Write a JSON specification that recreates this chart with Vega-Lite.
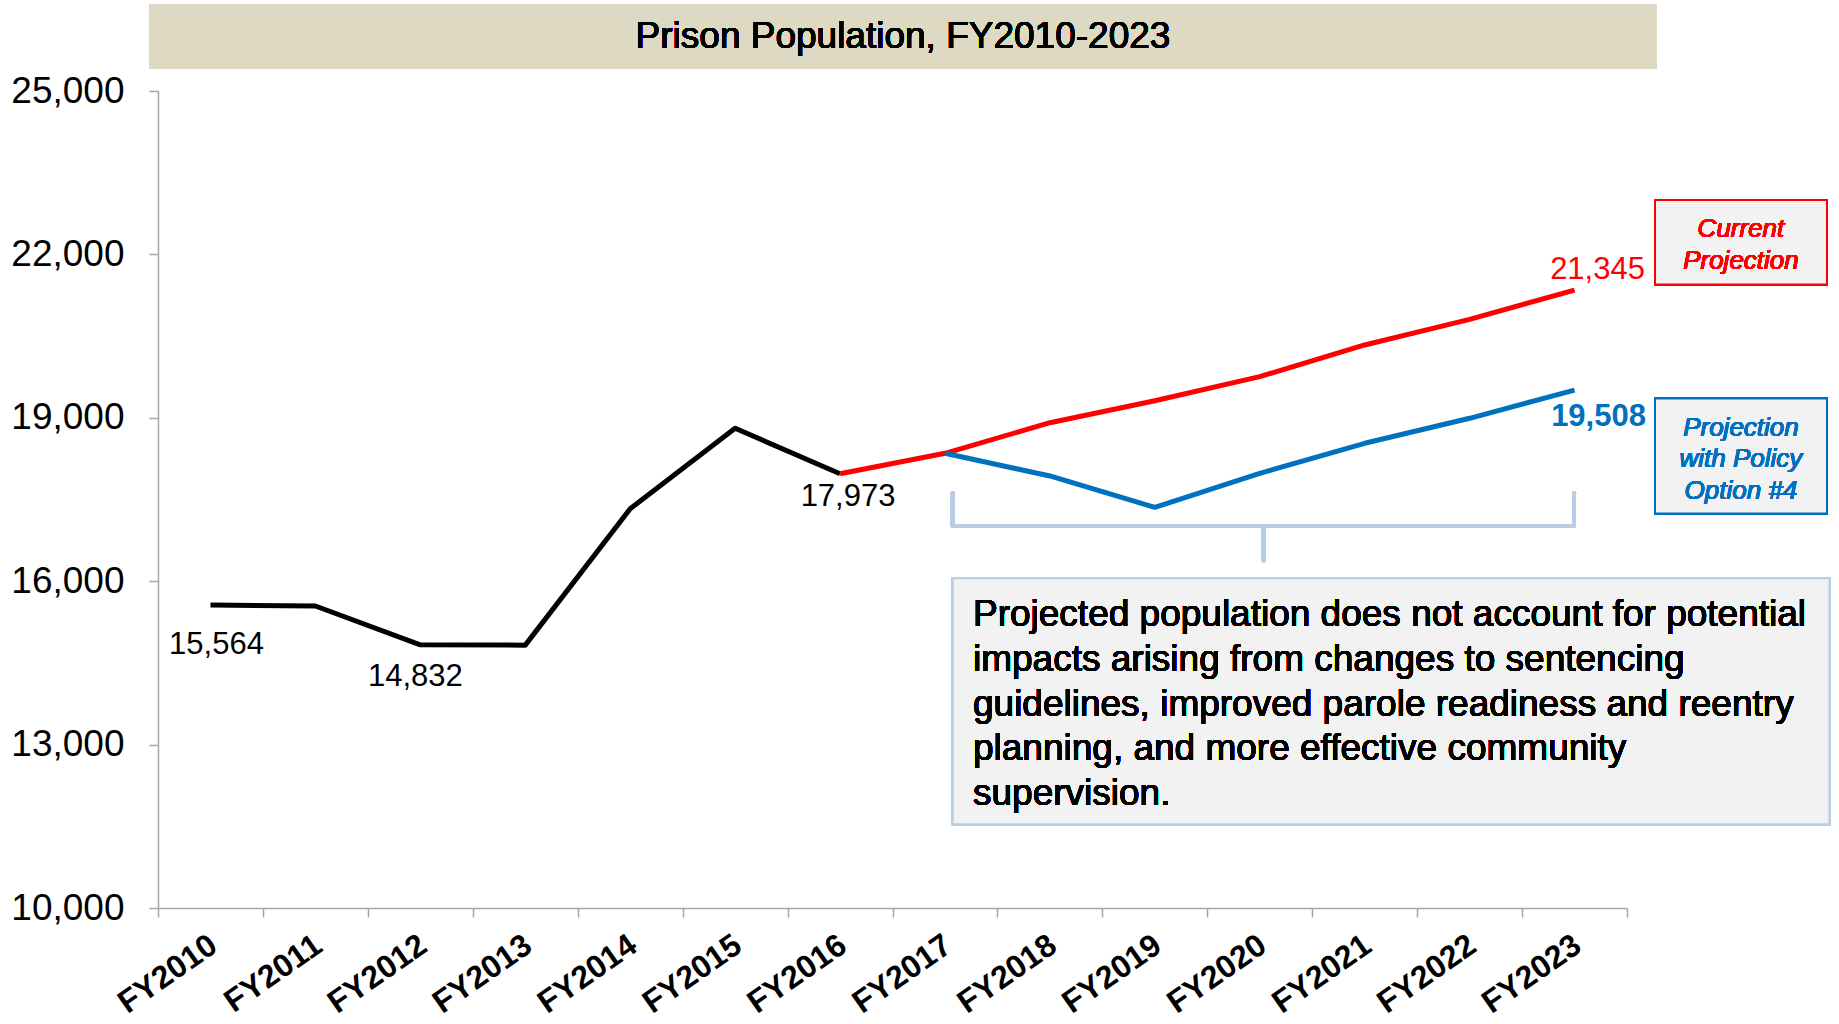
{
  "$schema": "https://vega.github.io/schema/vega-lite/v6.json",
  "autosize": "none",
  "width": 1469,
  "height": 817,
  "padding": {"left": 158, "top": 91, "right": 212, "bottom": 116},
  "background": "#FFFFFF",
  "config": {
    "view": {"stroke": null},
    "font": "Liberation Sans",
    "axis": {"labelFont": "Liberation Sans", "labelColor": "#000000", "grid": false, "title": null}
  },
  "datasets": {
    "pop": [
      {"year": 2010, "series": "Actual", "value": 15564},
      {"year": 2011, "series": "Actual", "value": 15545},
      {"year": 2012, "series": "Actual", "value": 14832},
      {"year": 2013, "series": "Actual", "value": 14826},
      {"year": 2014, "series": "Actual", "value": 17330},
      {"year": 2015, "series": "Actual", "value": 18807},
      {"year": 2016, "series": "Actual", "value": 17973},
      {"year": 2016, "series": "Current Projection", "value": 17973},
      {"year": 2017, "series": "Current Projection", "value": 18348},
      {"year": 2018, "series": "Current Projection", "value": 18910},
      {"year": 2019, "series": "Current Projection", "value": 19314},
      {"year": 2020, "series": "Current Projection", "value": 19755},
      {"year": 2021, "series": "Current Projection", "value": 20337},
      {"year": 2022, "series": "Current Projection", "value": 20808},
      {"year": 2023, "series": "Current Projection", "value": 21345},
      {"year": 2017, "series": "Projection with Policy Option #4", "value": 18348},
      {"year": 2018, "series": "Projection with Policy Option #4", "value": 17932},
      {"year": 2019, "series": "Projection with Policy Option #4", "value": 17357},
      {"year": 2020, "series": "Projection with Policy Option #4", "value": 17981},
      {"year": 2021, "series": "Projection with Policy Option #4", "value": 18532},
      {"year": 2022, "series": "Projection with Policy Option #4", "value": 18991},
      {"year": 2023, "series": "Projection with Policy Option #4", "value": 19508}
    ]
  },
  "data": {"name": "pop"},
  "layer": [
    {
      "mark": {"type": "rect", "fill": "#DDD9C3"},
      "encoding": {
        "x": {"datum": 2009.42},
        "x2": {"datum": 2023.786},
        "y": {"datum": 26597},
        "y2": {"datum": 25404}
      }
    },
    {
      "mark": {"type": "text", "text": "Prison Population, FY2010-2023", "fontSize": 37, "color": "#000000", "align": "center", "baseline": "middle"},
      "encoding": {"x": {"datum": 2016.6}, "y": {"datum": 25990}}
    },
    {
      "transform": [{"filter": "datum.series === 'Actual'"}],
      "mark": {"type": "line", "color": "#000000", "strokeWidth": 5, "strokeJoin": "round"},
      "encoding": {
        "x": {
          "field": "year", "type": "quantitative",
          "scale": {"domain": [2009.5, 2023.5], "nice": false, "zero": false},
          "axis": {
            "values": [2009.5, 2010, 2010.5, 2011, 2011.5, 2012, 2012.5, 2013, 2013.5, 2014, 2014.5, 2015, 2015.5, 2016, 2016.5, 2017, 2017.5, 2018, 2018.5, 2019, 2019.5, 2020, 2020.5, 2021, 2021.5, 2022, 2022.5, 2023, 2023.5],
            "labelExpr": "datum.value % 1 === 0 ? 'FY' + datum.value : ''",
            "labelAngle": -35,
            "labelAlign": "right",
            "labelBaseline": "top",
            "labelFontWeight": "bold",
            "labelFontSize": 32,
            "labelPadding": 12,
            "labelOffset": -6,
            "labelOverlap": false,
            "labelFlush": false,
            "labelBound": false,
            "tickSize": 9,
            "tickWidth": 1.5,
            "tickColor": "#A6A6A6",
            "tickOpacity": {"condition": {"test": "datum.value % 1 !== 0", "value": 1}, "value": 0},
            "domainColor": "#A6A6A6",
            "domainWidth": 1.5,
            "title": null
          }
        },
        "y": {
          "field": "value", "type": "quantitative",
          "scale": {"domain": [10000, 25000], "nice": false, "zero": false},
          "axis": {
            "values": [10000, 13000, 16000, 19000, 22000, 25000],
            "format": ",.0f",
            "labelFontSize": 37,
            "labelPadding": 25,
            "tickSize": 9,
            "tickWidth": 1.5,
            "tickColor": "#A6A6A6",
            "domainColor": "#A6A6A6",
            "domainWidth": 1.5,
            "title": null
          }
        }
      }
    },
    {
      "transform": [{"filter": "datum.series === 'Current Projection'"}],
      "mark": {"type": "line", "color": "#FF0000", "strokeWidth": 5, "strokeJoin": "round"},
      "encoding": {
        "x": {"field": "year", "type": "quantitative"},
        "y": {"field": "value", "type": "quantitative"}
      }
    },
    {
      "transform": [{"filter": "datum.series === 'Projection with Policy Option #4'"}],
      "mark": {"type": "line", "color": "#0070C0", "strokeWidth": 5, "strokeJoin": "round"},
      "encoding": {
        "x": {"field": "year", "type": "quantitative"},
        "y": {"field": "value", "type": "quantitative"}
      }
    },
    {
      "transform": [{"filter": "datum.series === 'Actual' && datum.year === 2010"}],
      "mark": {"type": "text", "fontSize": 31, "color": "#000000", "align": "center", "baseline": "middle", "dx": 6, "dy": 40},
      "encoding": {
        "x": {"field": "year", "type": "quantitative"},
        "y": {"field": "value", "type": "quantitative"},
        "text": {"field": "value", "type": "quantitative", "format": ","}
      }
    },
    {
      "transform": [{"filter": "datum.series === 'Actual' && datum.year === 2012"}],
      "mark": {"type": "text", "fontSize": 31, "color": "#000000", "align": "center", "baseline": "middle", "dx": -5, "dy": 32},
      "encoding": {
        "x": {"field": "year", "type": "quantitative"},
        "y": {"field": "value", "type": "quantitative"},
        "text": {"field": "value", "type": "quantitative", "format": ","}
      }
    },
    {
      "transform": [{"filter": "datum.series === 'Actual' && datum.year === 2016"}],
      "mark": {"type": "text", "fontSize": 31, "color": "#000000", "align": "center", "baseline": "middle", "dx": 8, "dy": 23},
      "encoding": {
        "x": {"field": "year", "type": "quantitative"},
        "y": {"field": "value", "type": "quantitative"},
        "text": {"field": "value", "type": "quantitative", "format": ","}
      }
    },
    {
      "transform": [{"filter": "datum.series === 'Current Projection' && datum.year === 2023"}],
      "mark": {"type": "text", "fontSize": 31, "color": "#FF0000", "align": "center", "baseline": "middle", "dx": 23, "dy": -20},
      "encoding": {
        "x": {"field": "year", "type": "quantitative"},
        "y": {"field": "value", "type": "quantitative"},
        "text": {"field": "value", "type": "quantitative", "format": ","}
      }
    },
    {
      "transform": [{"filter": "datum.series === 'Projection with Policy Option #4' && datum.year === 2023"}],
      "mark": {"type": "text", "fontSize": 31, "fontWeight": "bold", "color": "#0070C0", "align": "center", "baseline": "middle", "dx": 24, "dy": 27},
      "encoding": {
        "x": {"field": "year", "type": "quantitative"},
        "y": {"field": "value", "type": "quantitative"},
        "text": {"field": "value", "type": "quantitative", "format": ","}
      }
    },
    {
      "mark": {"type": "rule", "color": "#B9CDE5", "strokeWidth": 4, "strokeCap": "round"},
      "encoding": {"x": {"datum": 2017.074}, "y": {"datum": 17614}, "y2": {"datum": 17014}}
    },
    {
      "mark": {"type": "rule", "color": "#B9CDE5", "strokeWidth": 4, "strokeCap": "round"},
      "encoding": {"x": {"datum": 2022.995}, "y": {"datum": 17614}, "y2": {"datum": 17014}}
    },
    {
      "mark": {"type": "rule", "color": "#B9CDE5", "strokeWidth": 4, "strokeCap": "round"},
      "encoding": {"x": {"datum": 2017.074}, "x2": {"datum": 2022.995}, "y": {"datum": 17014}}
    },
    {
      "mark": {"type": "rule", "color": "#B9CDE5", "strokeWidth": 4, "strokeCap": "round"},
      "encoding": {"x": {"datum": 2020.038}, "y": {"datum": 17014}, "y2": {"datum": 16378}}
    },
    {
      "mark": {"type": "rect", "fill": "#F2F2F2", "stroke": "#B9CDE5", "strokeWidth": 2},
      "encoding": {"x": {"datum": 2017.074}, "x2": {"datum": 2025.429}, "y": {"datum": 16053}, "y2": {"datum": 11537}}
    },
    {
      "mark": {"type": "rect", "fill": "#F2F2F2", "stroke": "#FF0000", "strokeWidth": 2},
      "encoding": {"x": {"datum": 2023.767}, "x2": {"datum": 2025.406}, "y": {"datum": 22999}, "y2": {"datum": 21446}}
    },
    {
      "mark": {"type": "rect", "fill": "#F2F2F2", "stroke": "#0070C0", "strokeWidth": 2},
      "encoding": {"x": {"datum": 2023.767}, "x2": {"datum": 2025.406}, "y": {"datum": 19354}, "y2": {"datum": 17241}}
    },
    {
      "mark": {
        "type": "text",
        "text": ["Projected population does not account for potential", "impacts arising from changes to sentencing", "guidelines, improved parole readiness and reentry", "planning, and more effective community", "supervision."],
        "fontSize": 37, "lineHeight": 44.8, "color": "#000000", "align": "left", "baseline": "alphabetic"
      },
      "encoding": {"x": {"datum": 2017.267}, "y": {"datum": 15179}}
    },
    {
      "mark": {
        "type": "text",
        "text": ["Current", "Projection"],
        "font": "Arial",
        "fontSize": 26, "fontStyle": "italic", "fontWeight": 400, "lineHeight": 31.7, "color": "#FF0000", "align": "center", "baseline": "alphabetic"
      },
      "encoding": {"x": {"datum": 2024.586}, "y": {"datum": 22314}}
    },
    {
      "mark": {
        "type": "text",
        "text": ["Projection", "with Policy", "Option #4"],
        "font": "Arial",
        "fontSize": 26, "fontStyle": "italic", "fontWeight": 400, "lineHeight": 31.6, "color": "#0070C0", "align": "center", "baseline": "alphabetic"
      },
      "encoding": {"x": {"datum": 2024.586}, "y": {"datum": 18670}}
    }
  ]
}
